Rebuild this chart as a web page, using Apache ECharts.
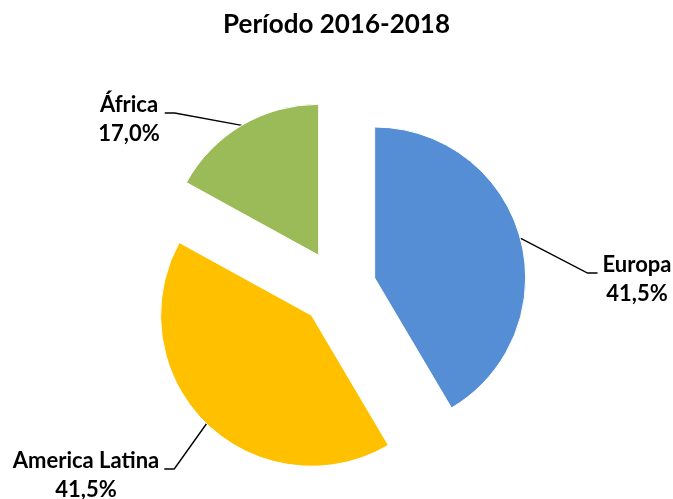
<!DOCTYPE html>
<html><head><meta charset="utf-8">
<script src="https://cdn.jsdelivr.net/npm/echarts@6/dist/echarts.min.js"></script>
<style>html,body{margin:0;padding:0;background:#fff}#c{width:673px;height:499px}</style>
</head><body><div id="c"></div>
<script>
const titleText = 'Período 2016-2018';
const categories = ['Europa', 'America Latina', 'África'];
const values = [41.5, 41.5, 17.0];
const colors = ['#558ED5', '#FFC000', '#9BBB59'];
const labelPositions = [[637, 279], [86, 475], [129, 119]];

const pieCenter = [338, 288];
const pieRadius = 151;
const explode = 38;

const total = values.reduce((a, b) => a + b, 0);
let acc = 0;
const series = categories.map((name, i) => {
  const mid = (acc + values[i] / 2) / total * 2 * Math.PI;
  acc += values[i];
  const center = [pieCenter[0] + explode * Math.sin(mid), pieCenter[1] - explode * Math.cos(mid)];
  return {
    type: 'pie',
    center: center,
    radius: pieRadius,
    startAngle: 90,
    clockwise: true,
    silent: true,
    emphasis: {disabled: true},
    data: categories.map((n, j) => j === i
      ? {name: n, value: values[j], itemStyle: {color: colors[j], borderColor: '#fff', borderWidth: 1}}
      : {name: n, value: values[j], itemStyle: {color: 'rgba(0,0,0,0)', borderWidth: 0},
         label: {show: false}, labelLine: {show: false}}),
    label: {
      show: true, position: 'outside',
      formatter: p => p.name + '\n' + p.value.toFixed(1).replace('.', ',') + '%',
      fontFamily: 'Lato', fontWeight: 'bold', fontSize: 22, lineHeight: 29, color: '#000', align: 'center'
    },
    labelLine: {show: true, length: 15, length2: 10, lineStyle: {color: '#000', width: 1.4}},
    labelLayout: function (p) {
      if (p.dataIndex !== p.seriesIndex) return {};
      const c = labelPositions[p.dataIndex];
      const w = p.labelRect.width, h = p.labelRect.height;
      const left = c[0] - w / 2, right = c[0] + w / 2, top = c[1] - h / 2;
      const isRight = c[0] > pieCenter[0];
      const lineY = top + 23;
      const endX = isRight ? left - 5 : right + 5;
      const elbowX = isRight ? endX - 10 : endX + 10;
      const start = p.labelLinePoints[0];
      return {x: c[0], y: c[1], align: 'center', verticalAlign: 'middle',
        labelLinePoints: [start, [elbowX, lineY], [endX, lineY]]};
    }
  };
});

const chart = echarts.init(document.getElementById('c'), null, {renderer: 'canvas'});
chart.setOption({
  animation: false,
  title: {
    text: titleText, left: 'center', top: 7, padding: [5, 0, 5, 7],
    textStyle: {fontFamily: 'Lato', fontWeight: 'bold', fontSize: 26, color: '#000'}
  },
  series: series
});
</script></body></html>
